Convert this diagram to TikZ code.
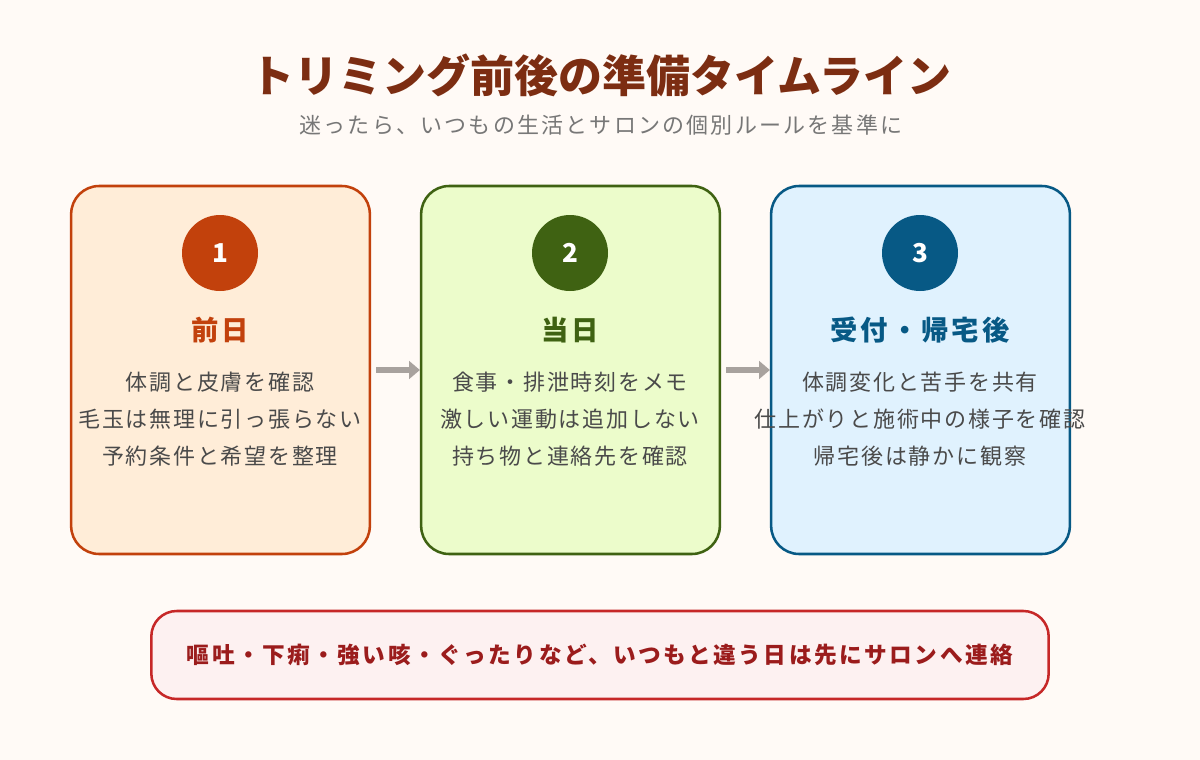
\documentclass[tikz,border=0pt]{standalone}
\usepackage{fontspec}
\setmainfont{Noto Sans CJK JP}
\newfontfamily\jp{Noto Sans CJK JP}
\newfontfamily\jpb[LetterSpace=8]{Noto Sans CJK JP}
\newfontfamily\jps[LetterSpace=10]{Noto Sans CJK JP}
\newfontfamily\jph[LetterSpace=11]{Noto Sans CJK JP}
\newfontfamily\jpw[LetterSpace=11]{Noto Sans CJK JP}
\usetikzlibrary{arrows.meta}
\definecolor{bg}{HTML}{FFFAF6}
\definecolor{ttl}{HTML}{7C2D12}
\definecolor{sub}{HTML}{777777}
\definecolor{body}{HTML}{4A4A4A}
\definecolor{cA}{HTML}{C2410C}
\definecolor{fA}{HTML}{FFEDD8}
\definecolor{cB}{HTML}{3F6212}
\definecolor{fB}{HTML}{ECFCCB}
\definecolor{cC}{HTML}{075985}
\definecolor{fC}{HTML}{E0F2FE}
\definecolor{warnb}{HTML}{C62828}
\definecolor{warnf}{HTML}{FDF1F1}
\definecolor{warnt}{HTML}{9B1C1C}
\definecolor{arr}{HTML}{A8A29E}
\tikzset{
  card/.style={draw=#1, line width=1.9pt, rounded corners=21pt, minimum width=224pt, minimum height=276pt, inner sep=0pt},
  badge/.style={circle, fill=#1, minimum size=57pt, inner sep=0pt, text=white, font=\jp\bfseries\fontsize{19.5pt}{20pt}\selectfont},
  steplabel/.style={text=#1, font=\jph\bfseries\fontsize{20.5pt}{22pt}\selectfont},
  bodytext/.style={text=body, align=center, font=\jpb\fontsize{16.5pt}{27.9pt}\selectfont},
  flow/.style={draw=arr, line width=4.5pt, -{Triangle[length=8pt,width=13pt]}}
}
\begin{document}
\begin{tikzpicture}[x=0.75pt,y=-0.75pt]
\fill[bg] (0,0) rectangle (1200,760);
\useasboundingbox (0,0) rectangle (1200,760);
\node[text=ttl, font=\jp\bfseries\fontsize{33pt}{36pt}\selectfont] (title) at (601,75) {トリミング前後の準備タイムライン};
\node[text=sub, font=\jps\fontsize{16.5pt}{18pt}\selectfont] (subtitle) at (601,125) {迷ったら、いつもの生活とサロンの個別ルールを基準に};

\node[card=cA, fill=fA] (c1) at (220.5,370) {};
\node[card=cB, fill=fB] (c2) at (570.5,370) {};
\node[card=cC, fill=fC] (c3) at (920.5,370) {};

\node[badge=cA] (b1) at (220,253) {1};
\node[badge=cB] (b2) at (570,253) {2};
\node[badge=cC] (b3) at (920,253) {3};

\node[steplabel=cA] (s1) at (220,330) {前日};
\node[steplabel=cB] (s2) at (570,330) {当日};
\node[steplabel=cC] (s3) at (920,330) {受付・帰宅後};

\node[bodytext, anchor=north] (t1) at (220,367) {体調と皮膚を確認\\毛玉は無理に引っ張らない\\予約条件と希望を整理};
\node[bodytext, anchor=north] (t2) at (570,367) {食事・排泄時刻をメモ\\激しい運動は追加しない\\持ち物と連絡先を確認};
\node[bodytext, anchor=north] (t3) at (920,367) {体調変化と苦手を共有\\仕上がりと施術中の様子を確認\\帰宅後は静かに観察};

\coordinate (a1s) at (376,370);
\coordinate (a2s) at (726,370);
\draw[flow] (a1s) -- (c2.west |- a1s);
\draw[flow] (a2s) -- (c3.west |- a2s);

\node[draw=warnb, fill=warnf, line width=1.9pt, rounded corners=19pt, minimum width=673pt, minimum height=66pt, inner sep=0pt, text=warnt, font=\jpw\bfseries\fontsize{17pt}{18pt}\selectfont] (warn) at (600,655) {嘔吐・下痢・強い咳・ぐったりなど、いつもと違う日は先にサロンへ連絡};
\end{tikzpicture}
\end{document}
